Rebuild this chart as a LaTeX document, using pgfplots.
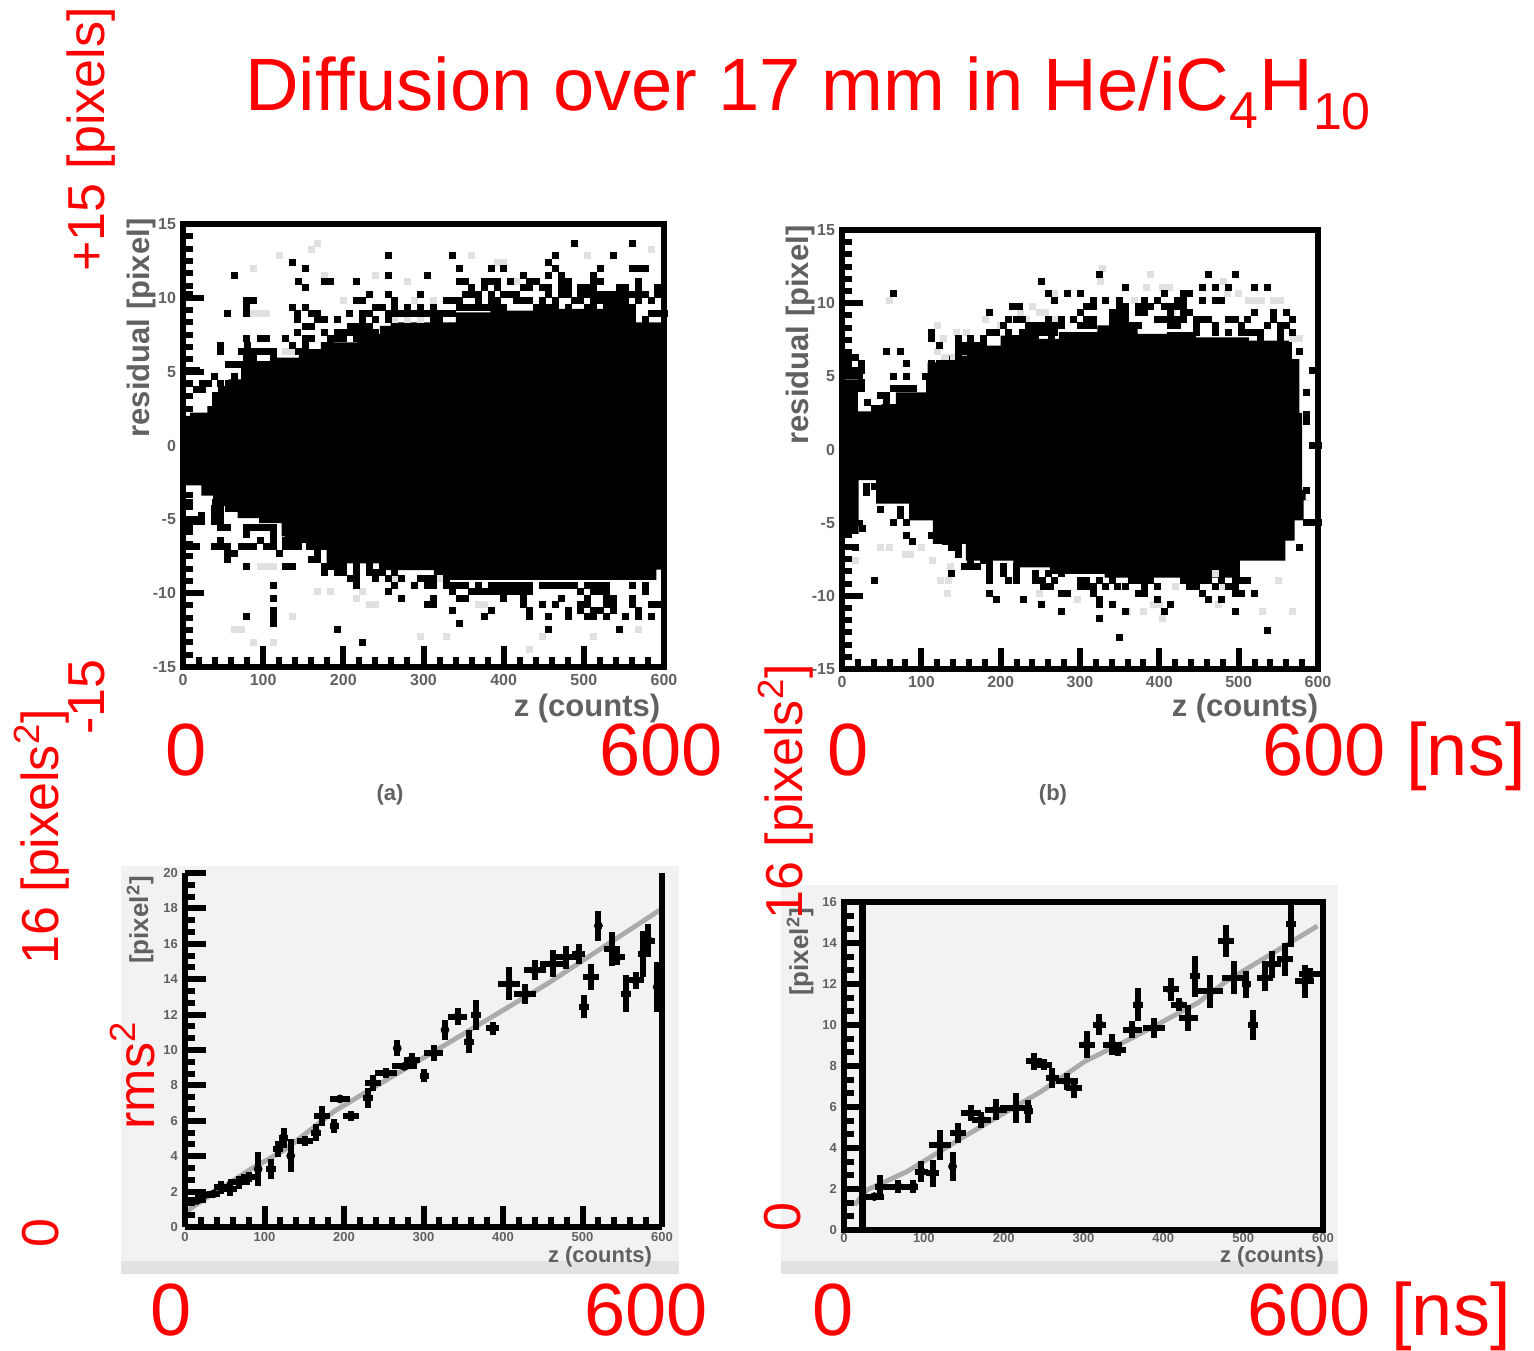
\documentclass[border=0pt]{standalone}
\usepackage{pgfplots}
\usepackage{fontspec}
\setmainfont{Liberation Sans}
\pgfplotsset{compat=1.18}
\definecolor{bgp}{HTML}{F2F2F2}
\definecolor{bandp}{HTML}{E2E2E2}
\definecolor{fitp}{HTML}{ABABAB}
\newcommand{\fs}[1]{\fontsize{#1}{#1}\selectfont}
\pgfplotsset{
  cellm/.style={only marks,mark=square*,mark size=1.5pt,black,mark options={draw=black,fill=black,line width=0.2pt}},
  faintm/.style={only marks,mark=square*,mark size=1.5pt,black!12,mark options={draw=black!12,fill=black!12,line width=0.2pt}},
  errm/.style={only marks,mark=none,forget plot,error bars/.cd,x dir=both,x explicit,y dir=both,y explicit,
     error mark=none,error bar style={line width=3pt,black}},
  pane/.style={scale only axis,axis on top,anchor=south west,
     axis line style={line width=3.2pt,black},
     tick style={black,line width=3pt},
     xtick pos=bottom,ytick pos=left,tick align=inside,
     /pgf/number format/assume math mode=true,
     /pgf/number format/1000 sep={}},
  toppane/.style={pane,xmin=0,xmax=600,ymin=-15,ymax=15,
     xtick={0,100,...,600},ytick={-15,-10,...,15},minor x tick num=4,minor y tick num=5,
     major tick length=10.5pt,minor tick length=5pt,
     xticklabel style={font=\fs{8}\bfseries,text=black!62,yshift=0pt},
     yticklabel style={font=\fs{8}\bfseries,text=black!62,xshift=0pt}},
}
\begin{document}
\begin{tikzpicture}[x=0.5pt,y=-0.5pt]
\path (0,0) rectangle (1534,1349);
\fill[bgp] (121,866) rectangle (679,1274);
\fill[bandp] (121,1261) rectangle (679,1274);
\fill[bgp] (781,885) rectangle (1338,1274);
\fill[bandp] (781,1261) rectangle (1338,1274);

% ---------- panel (a)
\begin{axis}[toppane,at={(91.5pt,-333.5pt)},width=240.5pt,height=221.5pt]
\addplot[const plot mark mid,fill=black,draw=none] coordinates {
(0,2.0)(18,2.22)(43,2.67)(45,3.58)(68,4.48)(77,5.28)(140,5.96)(149,6.53)(195,6.98)(240,7.55)(251,8.11)(267,8.34)(336,8.34)(345,9.02)(422,9.13)(490,9.25)(558,9.58)(572,8.34)(600,8.34)
(600,-8.4)(581,-9.1)(444,-9.1)(354,-9.1)(272,-8.43)(231,-7.98)(181,-7.98)(177,-7.07)(130,-6.6)(124,-6.16)(122,-5.26)(68,-4.92)(68,-3.9)(45,-3.9)(30,-3.4)(16,-2.7)(0,-2.7)
} -- cycle;
\addplot[faintm] coordinates {(168,13.71)(160,13.3)(120,12.87)(360,12.87)(504,12.87)(584,13.3)(88,12.01)(392,12.42)(400,12.42)(176,11.56)(240,11.56)(416,11.13)(280,11.13)(200,9.83)(144,11.13)(288,9.83)(312,9.83)(128,6.39)(136,6.39)(88,8.97)(96,8.97)(104,8.97)(264,8.54)(280,8.54)(296,8.54)(240,-10.72)(232,-10.72)(216,-10.31)(224,-9.86)(184,-9.86)(168,-9.86)(136,-11.58)(296,-12.9)(328,-12.9)(64,-12.46)(72,-12.46)(88,-13.33)(112,-13.33)(432,-13.76)(448,-12.9)(512,-12.9)(376,-10.72)(368,-10.72)(264,-9.0)(320,-9.0)(112,-8.14)(96,-8.14)(104,-8.14)(112,-9.43)(504,-11.58)(568,-12.46)};
\addplot[cellm] coordinates {
(488,13.71)(560,13.71)
(256,12.87)(336,12.87)(464,12.87)(536,12.87)
(136,12.42)(456,12.42)
(152,12.01)(344,12.01)(384,12.01)(400,12.01)(464,12.01)(520,12.01)(560,12.01)(568,12.01)(576,12.01)
(64,11.56)(256,11.56)(304,11.56)(424,11.56)(456,11.56)(472,11.56)(512,11.56)
(144,11.13)(176,11.13)(184,11.13)(216,11.13)(344,11.13)(352,11.13)(376,11.13)(384,11.13)(392,11.13)(408,11.13)(432,11.13)(440,11.13)(472,11.13)(480,11.13)(512,11.13)(520,11.13)(568,11.13)
(152,10.69)(360,10.69)(376,10.69)(392,10.69)(424,10.69)(432,10.69)(448,10.69)(456,10.69)(472,10.69)(480,10.69)(496,10.69)(504,10.69)(512,10.69)(544,10.69)(552,10.69)(568,10.69)(592,10.69)
(8,10.26)(232,10.26)(256,10.26)(296,10.26)(352,10.26)(360,10.26)(368,10.26)(384,10.26)(400,10.26)(408,10.26)(416,10.26)(456,10.26)(472,10.26)(480,10.26)(496,10.26)(504,10.26)(512,10.26)(520,10.26)(528,10.26)(536,10.26)(544,10.26)(552,10.26)(560,10.26)(568,10.26)(576,10.26)(592,10.26)
(79,9.83)(88,9.83)(216,9.83)(224,9.83)(264,9.83)(328,9.83)(336,9.83)(344,9.83)(368,9.83)(384,9.83)(392,9.83)(416,9.83)(424,9.83)(432,9.83)(448,9.83)(464,9.83)(488,9.83)(496,9.83)(512,9.83)(520,9.83)(528,9.83)(536,9.83)(544,9.83)(552,9.83)(568,9.83)(584,9.83)
(79,9.4)(136,9.4)(152,9.4)(240,9.4)(248,9.4)(264,9.4)(280,9.4)(296,9.4)(312,9.4)(344,9.4)(352,9.4)(360,9.4)(368,9.4)(376,9.4)(384,9.4)(392,9.4)(400,9.4)(440,9.4)(448,9.4)(456,9.4)(464,9.4)(480,9.4)(504,9.4)(512,9.4)(528,9.4)(536,9.4)(544,9.4)(552,9.4)(560,9.4)
(55,8.97)(79,8.97)(143,8.97)(160,8.97)(168,8.97)(207,8.97)(224,8.97)(232,8.97)(256,8.97)(264,8.97)(272,8.97)(280,8.97)(288,8.97)(296,8.97)(304,8.97)(312,8.97)(320,8.97)(328,8.97)(336,8.97)(584,8.97)(592,8.97)(600,8.97)
(143,8.54)(168,8.54)(176,8.54)(192,8.54)(224,8.54)(240,8.54)(256,8.54)(312,8.54)(320,8.54)(560,8.54)(576,8.54)
(152,8.11)(160,8.11)(208,8.11)(216,8.11)(224,8.11)(232,8.11)
(143,7.68)(176,7.68)(192,7.68)(200,7.68)(208,7.68)(216,7.68)(224,7.68)(232,7.68)(240,7.68)
(79,7.25)(96,7.25)(104,7.25)(128,7.25)(152,7.25)(160,7.25)(183,7.25)(192,7.25)(200,7.25)(216,7.25)(224,7.25)
(47,6.82)(80,6.82)(136,6.82)(152,6.82)(176,6.82)(184,6.82)(47,6.39)(72,6.39)(80,6.39)(88,6.39)(96,6.39)(104,6.39)(112,6.39)(144,6.39)(152,6.39)
(79,5.96)(88,5.96)(112,5.96)(56,5.53)(64,5.53)(72,5.53)(80,5.53)(88,5.53)(96,5.53)(104,5.53)(112,5.53)(120,5.53)(128,5.53)
(8,5.1)(16,5.1)(39,4.67)(64,4.67)(8,4.24)(24,4.24)(32,4.24)(47,4.24)(56,4.24)(16,3.81)(24,3.81)(48,3.81)(56,3.81)(40,3.38)(48,3.38)(56,3.38)
(40,2.95)(48,2.95)(56,2.95)
(224,-13.33)
(192,-12.46)(456,-12.46)(544,-12.46)
(112,-12.01)(344,-12.01)
(79,-11.58)(112,-11.58)(376,-11.58)(432,-11.58)(456,-11.58)(480,-11.58)(504,-11.58)(512,-11.58)(528,-11.58)(552,-11.58)(568,-11.58)(584,-11.58)
(112,-11.15)(336,-11.15)(384,-11.15)(432,-11.15)(480,-11.15)(496,-11.15)(512,-11.15)(520,-11.15)(536,-11.15)(568,-11.15)
(304,-10.72)(312,-10.72)(424,-10.72)(448,-10.72)(464,-10.72)(496,-10.72)(504,-10.72)(528,-10.72)(536,-10.72)(560,-10.72)(584,-10.72)(592,-10.72)
(112,-10.31)(272,-10.31)(312,-10.31)(344,-10.31)(352,-10.31)(400,-10.31)(424,-10.31)(472,-10.31)(504,-10.31)(528,-10.31)(536,-10.31)(560,-10.31)
(256,-9.86)(336,-9.86)(360,-9.86)(368,-9.86)(376,-9.86)(384,-9.86)(392,-9.86)(400,-9.86)(408,-9.86)(416,-9.86)(424,-9.86)(432,-9.86)(496,-9.86)(512,-9.86)(520,-9.86)(528,-9.86)(576,-9.86)
(112,-9.43)(216,-9.43)(264,-9.43)(288,-9.43)(304,-9.43)(312,-9.43)(328,-9.43)(336,-9.43)(344,-9.43)(352,-9.43)(368,-9.43)(384,-9.43)(392,-9.43)(400,-9.43)(408,-9.43)(416,-9.43)(424,-9.43)(432,-9.43)(448,-9.43)(456,-9.43)(464,-9.43)(472,-9.43)(480,-9.43)(488,-9.43)(504,-9.43)(512,-9.43)(520,-9.43)(528,-9.43)(560,-9.43)(576,-9.43)
(208,-9.0)(216,-9.0)(240,-9.0)(256,-9.0)(272,-9.0)(296,-9.0)(304,-9.0)(312,-9.0)(328,-9.0)
(176,-8.57)(192,-8.57)(200,-8.57)(216,-8.57)(232,-8.57)(240,-8.57)(248,-8.57)(264,-8.57)
(79,-8.14)(128,-8.14)(136,-8.14)(176,-8.14)(184,-8.14)(192,-8.14)(200,-8.14)(216,-8.14)(232,-8.14)(248,-8.14)(264,-8.14)
(55,-7.7)(160,-7.7)(168,-7.7)(55,-7.27)(64,-7.27)(120,-7.27)(168,-7.27)
(8,-6.84)(16,-6.84)(39,-6.84)(47,-6.84)(55,-6.84)(72,-6.84)(80,-6.84)(88,-6.84)(104,-6.84)(112,-6.84)(128,-6.84)(136,-6.84)(144,-6.84)
(47,-6.41)(96,-6.41)(112,-6.41)(128,-6.41)(79,-5.98)(112,-5.98)(8,-5.55)(47,-5.55)(55,-5.55)(79,-5.55)(88,-5.55)(96,-5.55)(104,-5.55)(112,-5.55)
(8,-5.12)(16,-5.12)(23,-5.12)(39,-5.12)(47,-5.12)(23,-4.69)(39,-4.69)(47,-4.69)(39,-4.26)(47,-4.26)(56,-4.26)(64,-4.26)(8,-3.83)(40,-3.83)(48,-3.83)(56,-3.83)(64,-3.83)
};
\end{axis}

% ---------- panel (b)
\begin{axis}[toppane,at={(421pt,-334.5pt)},width=238pt,height=219.5pt]
\addplot[const plot mark mid,fill=black,draw=none] coordinates {
(0,4.8)(20,4.8)(20,2.6)(50,2.6)(50,3.1)(68,3.1)(68,3.9)(106,3.9)(106,4.9)(110,5.95)(142,6.41)(184,7.1)(216,7.79)(257,7.56)(290,8.02)(354,8.48)(391,7.9)(428,8.02)(465,7.67)(561,7.44)(573,6.18)(580,2.5)(580,-2.78)(589,-3.47)
(575,-4.85)(566,-6.22)(552,-7.6)(451,-8.75)(382,-8.75)(280,-8.5)(244,-8.06)(188,-7.6)(124,-6.45)(105,-4.85)(64,-3.7)(22,-2.1)(20,-5.76)(0,-5.76)
} -- cycle;
\addplot[faintm] coordinates {(328,12.4)(388,11.97)(326,11.53)(480,11.53)(384,11.1)(404,11.1)(412,11.1)(486,10.66)(500,10.66)(368,10.22)(512,10.22)(268,10.66)(520,10.22)(528,10.22)(544,10.22)(552,10.22)(240,9.79)(224,9.35)(248,9.35)(256,9.35)(416,9.35)(232,8.91)(268,8.91)(180,8.91)(200,8.48)(568,7.6)(576,7.6)(120,8.48)(144,8.04)(156,8.04)(128,7.6)(120,6.75)(130,6.32)(140,6.32)(60,10.22)(124,-8.91)(134,-8.91)(100,-6.7)(80,-7.14)(86,-7.14)(48,-6.7)(60,-6.7)(16,-7.58)(114,-7.58)(136,-8.0)(132,-9.79)(248,-9.79)(296,-10.2)(360,-11.07)(380,-11.07)(392,-10.6)(400,-10.6)(474,-10.6)(530,-11.07)(568,-11.07)(404,-11.5)(480,-9.35)(420,-9.35)(470,-8.47)(550,-8.91)};
\addplot[cellm] coordinates {
(324,11.97)(462,11.97)(495,11.97)
(251,11.53)
(357,11.1)(454,11.1)(470,11.1)(487,11.1)(519,11.1)(536,11.1)
(64,10.66)(260,10.66)(284,10.66)(300,10.66)(406,10.66)(430,10.66)(438,10.66)
(268,10.22)(316,10.22)(332,10.22)(349,10.22)(381,10.22)(397,10.22)(422,10.22)(430,10.22)(454,10.22)(470,10.22)(478,10.22)
(215,9.79)(223,9.79)(308,9.79)(316,9.79)(349,9.79)(357,9.79)(373,9.79)(381,9.79)(389,9.79)(406,9.79)(414,9.79)(422,9.79)(430,9.79)
(186,9.35)(300,9.35)(340,9.35)(349,9.35)(357,9.35)(373,9.35)(381,9.35)(414,9.35)(430,9.35)(438,9.35)(519,9.35)(543,9.35)(560,9.35)
(210,8.91)(219,8.91)(227,8.91)(260,8.91)(276,8.91)(292,8.91)(308,8.91)(316,8.91)(340,8.91)(349,8.91)(357,8.91)(397,8.91)(406,8.91)(414,8.91)(422,8.91)(430,8.91)(446,8.91)(454,8.91)(462,8.91)(487,8.91)(495,8.91)(511,8.91)(543,8.91)(568,8.91)
(203,8.48)(235,8.48)(243,8.48)(251,8.48)(260,8.48)(268,8.48)(276,8.48)(300,8.48)(308,8.48)(316,8.48)(340,8.48)(349,8.48)(357,8.48)(365,8.48)(373,8.48)(414,8.48)(422,8.48)(446,8.48)(470,8.48)(503,8.48)(536,8.48)(552,8.48)(560,8.48)
(113,8.04)(186,8.04)(194,8.04)(210,8.04)(227,8.04)(235,8.04)(243,8.04)(251,8.04)(260,8.04)(268,8.04)(446,8.04)(470,8.04)(487,8.04)(503,8.04)(511,8.04)(519,8.04)(527,8.04)(552,8.04)(568,8.04)
(113,7.6)(146,7.6)(162,7.6)(178,7.6)(215,7.6)(223,7.6)(235,7.6)(243,7.6)(264,7.6)(552,7.6)(527,7.6)
(122,7.16)(146,7.16)(154,7.16)(162,7.16)(170,7.16)(178,7.16)
(56,6.75)(73,6.75)(146,6.75)(154,6.75)(162,6.75)(170,6.75)(576,6.75)
(8,6.32)(16,6.32)(146,6.32)(162,6.32)(170,6.32)
(24,5.88)(81,5.88)(113,5.88)(122,5.88)(130,5.88)(138,5.88)(8,5.44)(16,5.44)(24,5.44)(113,5.44)(122,5.44)(593,5.44)
(64,5.03)(81,5.03)(105,5.03)
(24,4.6)(24,4.16)(64,4.16)(73,4.16)(81,4.16)(90,4.16)(48,3.7)(56,3.7)(585,3.9)(32,3.26)(56,3.26)(40,2.85)(48,2.85)
(585,2.4)(585,1.93)(593,0.3)(600,0.3)(585,-2.78)
(30,-2.5)(40,-2.5)(30,-2.9)(48,-2.9)(56,-2.9)(48,-3.4)(56,-3.2)(64,-3.4)
(48,-4.11)(73,-4.11)(90,-4.11)(97,-4.11)(73,-4.5)(97,-4.5)(64,-4.96)(81,-4.96)(585,-4.96)(593,-4.96)(600,-4.96)
(25,-5.4)(81,-5.86)(113,-5.86)(122,-5.86)(89,-6.27)(130,-6.27)
(16,-6.7)(138,-6.7)(146,-6.7)(576,-6.7)(146,-7.14)(170,-7.14)
(162,-7.58)(178,-7.58)(186,-7.58)(154,-8.0)(162,-8.0)(170,-8.0)(186,-8.0)(203,-8.0)(219,-8.0)
(138,-8.47)(186,-8.47)(203,-8.47)(219,-8.47)(244,-8.47)(260,-8.47)(276,-8.47)
(40,-8.91)(186,-8.91)(210,-8.91)(219,-8.91)(244,-8.91)(252,-8.91)(268,-8.91)(300,-8.91)(308,-8.91)(324,-8.91)(340,-8.91)(364,-8.91)(372,-8.91)(380,-8.91)(388,-8.91)(430,-8.91)(438,-8.91)(446,-8.91)(454,-8.91)(462,-8.91)(478,-8.91)(495,-8.91)(503,-8.91)(511,-8.91)
(254,-9.35)(262,-9.35)(300,-9.35)(308,-9.35)(316,-9.35)(332,-9.35)(347,-9.35)(357,-9.35)(381,-9.35)(397,-9.35)(438,-9.35)(446,-9.35)(470,-9.35)(487,-9.35)(495,-9.35)
(186,-9.79)(276,-9.79)(284,-9.79)(316,-9.79)(373,-9.79)(381,-9.79)(454,-9.79)(495,-9.79)(503,-9.79)(519,-9.79)
(194,-10.2)(228,-10.2)(324,-10.2)(397,-10.2)(462,-10.2)(478,-10.2)
(251,-10.6)(324,-10.6)(340,-10.6)(414,-10.6)
(276,-11.07)(357,-11.07)(406,-11.07)(495,-11.07)
(324,-11.5)(536,-12.38)(349,-12.82)
};
\end{axis}

% ---------- panel (c)
\begin{axis}[pane,clip=false,at={(92.5pt,-613.5pt)},width=238.5pt,height=177pt,
  xmin=0,xmax=600,ymin=0,ymax=16,
  axis x line=bottom,axis y line=left,tick align=inside,
  x axis line style={-,line width=3.2pt},y axis line style={-,line width=3.2pt},
  xtick={0,100,...,600},minor x tick num=4,
  ytick={0,1.6,...,16},yticklabels={0,2,4,6,8,10,12,14,16,18,20},minor y tick num=2,
  major tick length=10.5pt,minor tick length=5pt,
  xticklabel style={font=\fs{6.5}\bfseries,text=black!62,yshift=1pt},
  yticklabel style={font=\fs{6.5}\bfseries,text=black!62}]
\addplot[fitp,line width=2.4pt] coordinates {(0,0.67)(20,1.15)(82,2.6)(126,3.5)(188,5.24)(456,11)(592,14.2)(600,14.4)};
\addplot[errm] table[x=x,y=y,x error=ex,y error=ey,row sep=crcr] {
x y ex ey\\
15 1.20 12 .10\\ 24 1.45 12 .10\\ 36 1.50 8 .10\\ 45 1.80 8 .30\\ 57 1.72 8 .30\\ 68 2.02 14 .30\\ 80 2.25 10 .22\\ 92 2.62 4 .75\\ 108 2.62 6 .45\\ 117 3.52 6 .37\\ 133 3.22 4 .75\\ 124 4.04 6 .45\\ 151 3.89 10 .22\\ 165 4.27 6 .37\\ 188 4.57 6 .30\\ 172 5.01 10 .45\\ 195 5.79 12 .15\\ 209 5.01 10 .22\\ 230 5.84 6 .45\\ 237 6.51 10 .37\\ 253 6.96 14 .22\\ 267 8.08 4 .37\\ 276 7.26 16 .15\\ 285 7.56 10 .30\\ 301 6.84 6 .30\\ 313 7.86 12 .37\\ 327 8.91 4 .45\\ 343 9.51 12 .37\\ 357 8.38 6 .52\\ 366 9.58 6 .67\\ 387 8.98 8 .30\\ 408 11.0 14 .75\\ 428 10.55 14 .45\\ 440 11.6 14 .45\\ 463 11.9 16 .6\\ 479 12.2 14 .52\\ 495 12.35 8 .45\\ 502 9.96 6 .52\\ 511 11.3 10 .6\\ 520 13.62 4 .67\\ 537 12.57 10 .75\\ 544 12.2 10 .37\\ 555 10.55 6 .82\\ 567 11.15 10 .37\\ 576 12.35 6 1.05\\ 583 12.95 8 .75\\ 594 10.85 4 1.12\\
};
\draw[line width=3.2pt,black] (axis cs:600,0) -- (axis cs:600,16);
\end{axis}

% ---------- panel (d)
\begin{axis}[pane,clip=false,at={(422pt,-615pt)},width=239.5pt,height=164pt,
  xmin=0,xmax=600,ymin=0,ymax=16,
  xtick={0,100,...,600},
  xtick style={draw=none},
  minor xtick={100,200,300,400,500},
  ytick={0,2,...,16},minor y tick num=2,
  major tick length=9pt,minor tick length=5pt,
  xticklabel style={font=\fs{6.5}\bfseries,text=black!62,yshift=2pt},
  yticklabel style={font=\fs{6.5}\bfseries,text=black!62}]
\addplot[fitp,line width=2.4pt] coordinates {(13,1.22)(29,1.96)(79,2.85)(147,4.48)(247,6.76)(302,8.23)(365,9.45)(443,11.08)(479,12.14)(524,13.2)(593,14.83)};
\addplot[errm] table[x=x,y=y,x error=ex,y error=ey,row sep=crcr] {
x y ex ey\\
38 1.63 12 .15\\ 45 2.12 6 .55\\ 68 2.12 20 .33\\ 87 2.12 6 .33\\ 97 2.85 8 .5\\ 111 2.77 8 .65\\ 136 3.10 4 .73\\ 120 4.16 14 .73\\ 143 4.73 10 .5\\ 159 5.7 12 .4\\ 172 5.38 12 .4\\ 190 5.87 14 .5\\ 215 5.95 20 .73\\ 231 5.79 6 .57\\ 238 8.23 10 .4\\ 250 8.07 10 .25\\ 261 7.42 8 .5\\ 279 7.25 14 .4\\ 288 6.93 10 .5\\ 304 9.05 10 .65\\ 320 10.02 8 .5\\ 336 9.05 12 .5\\ 343 8.8 10 .33\\ 361 9.78 12 .4\\ 368 11.0 6 .8\\ 388 9.86 14 .5\\ 409 11.74 10 .57\\ 420 11.0 10 .33\\ 431 10.35 12 .65\\ 440 12.39 6 1\\ 459 11.65 16 .8\\ 479 14.1 10 .8\\ 488 12.3 14 .8\\ 504 11.98 6 .65\\ 512 10.02 6 .73\\ 527 12.3 10 .65\\ 536 12.96 12 .65\\ 552 13.2 10 .8\\ 560 14.91 6 1.09\\ 577 12.14 12 .8\\ 584 12.47 14 .33\\
};
\draw[line width=3.2pt,black] (axis cs:23,0) -- (axis cs:23,16);
\end{axis}

% ---------- small grey texts of the original figures
\begin{scope}[text=black!62,font=\bfseries]
\node[rotate=90,font=\fs{15.5}\bfseries] at (141,328) {residual [pixel]};
\node[rotate=90,font=\fs{15.5}\bfseries] at (800,335) {residual [pixel]};
\node[font=\fs{15.5}\bfseries] at (587,708) {z (counts)};
\node[font=\fs{15.5}\bfseries] at (1245,708) {z (counts)};
\node[font=\fs{11}\bfseries] at (390,795) {(a)};
\node[font=\fs{11}\bfseries] at (1053,795) {(b)};
\node[rotate=90,font=\fs{13}\bfseries] at (140,920) {[pixel\textsuperscript{2}]};
\node[rotate=90,font=\fs{13}\bfseries] at (800,952) {[pixel\textsuperscript{2}]};
\node[font=\fs{11}\bfseries] at (600,1257) {z (counts)};
\node[font=\fs{11}\bfseries] at (1272,1257) {z (counts)};
\end{scope}

% ---------- red annotations
\begin{scope}[text=red]
\node[anchor=base west,inner sep=0pt,font=\fs{37.1}] at (245,110) {Diffusion over 17 mm in He/iC\textsubscript{4}H\textsubscript{10}};
\node[anchor=base west,inner sep=0pt,rotate=90,font=\fs{26}] at (104,272) {+15 [pixels]};
\node[anchor=base west,inner sep=0pt,rotate=90,font=\fs{26}] at (104,735) {-15};
\node[anchor=base west,inner sep=0pt,rotate=90,font=\fs{26}] at (58,965) {16 [pixels\textsuperscript{2}]};
\node[anchor=base west,inner sep=0pt,rotate=90,font=\fs{26}] at (154,1130) {rms\textsuperscript{2}};
\node[anchor=base west,inner sep=0pt,rotate=90,font=\fs{26}] at (58,1248) {0};
\node[anchor=base west,inner sep=0pt,rotate=90,font=\fs{26}] at (802,920) {16 [pixels\textsuperscript{2}]};
\node[anchor=base west,inner sep=0pt,rotate=90,font=\fs{26}] at (800,1232) {0};
\node[anchor=base west,inner sep=0pt,font=\fs{37}] at (165,775) {0};
\node[anchor=base west,inner sep=0pt,font=\fs{37}] at (599,775) {600};
\node[anchor=base west,inner sep=0pt,font=\fs{37}] at (827,775) {0};
\node[anchor=base west,inner sep=0pt,font=\fs{37}] at (1262,775) {600 [ns]};
\node[anchor=base west,inner sep=0pt,font=\fs{37}] at (150,1335) {0};
\node[anchor=base west,inner sep=0pt,font=\fs{37}] at (584,1335) {600};
\node[anchor=base west,inner sep=0pt,font=\fs{37}] at (812,1335) {0};
\node[anchor=base west,inner sep=0pt,font=\fs{37}] at (1247,1335) {600 [ns]};
\end{scope}
\end{tikzpicture}
\end{document}
